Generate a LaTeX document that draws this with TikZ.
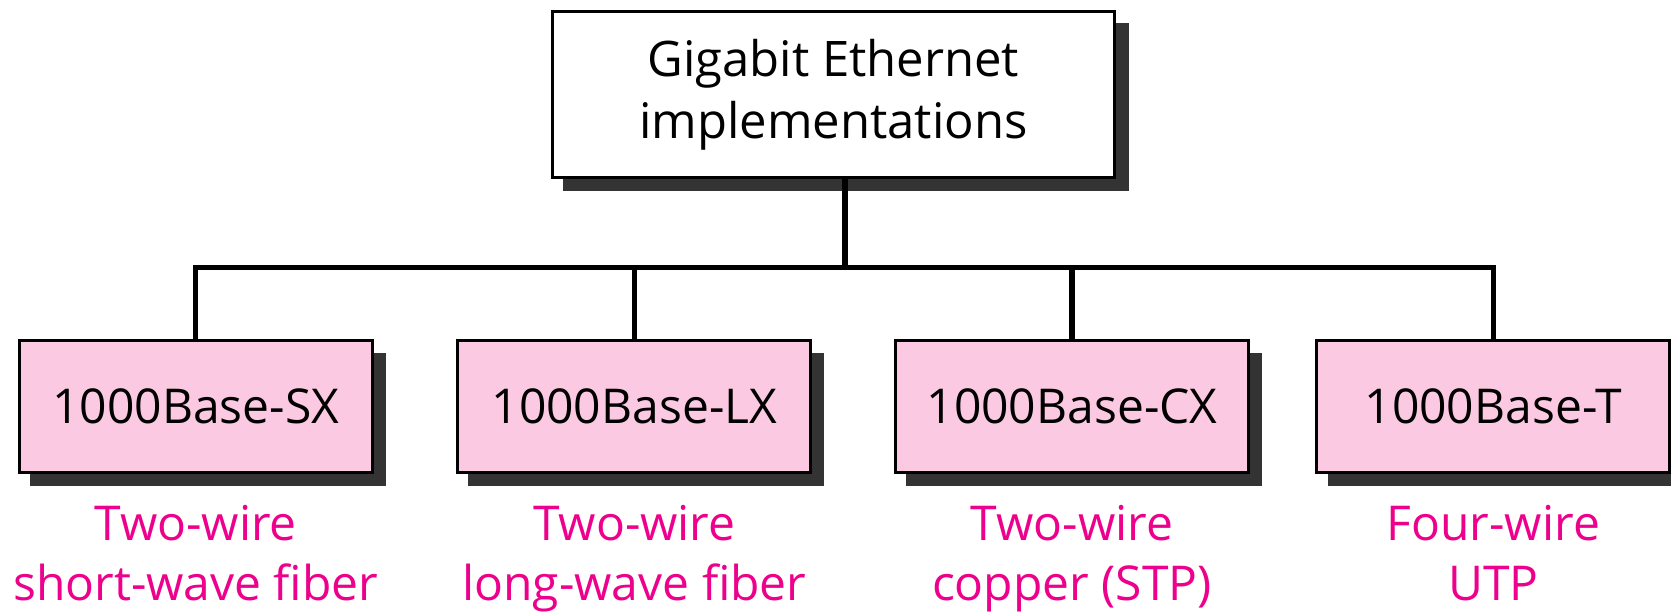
\documentclass[tikz,border=0pt]{standalone}
\usepackage{fontspec}
\setmainfont{Open Sans}
\usetikzlibrary{shadows}
\definecolor{boxpink}{HTML}{FCC9E3}
\definecolor{labmag}{HTML}{EC008C}
\definecolor{shad}{HTML}{333333}
\begin{document}
\begin{tikzpicture}[x=0.5pt,y=-0.5pt,
  topbox/.style={draw=black, line width=1.65pt, fill=white, minimum width=281pt, minimum height=83pt, inner sep=0pt, align=center,
    font=\fontsize{24.5}{31}\selectfont,
    drop shadow={shadow xshift=6pt, shadow yshift=-6.3pt, shadow scale=1.007, fill=shad, opacity=1}},
  implbox/.style={draw=black, line width=1.65pt, fill=boxpink, minimum width=176.5pt, minimum height=66pt, inner sep=0pt,
    font=\fontsize{24}{30}\selectfont,
    drop shadow={shadow xshift=6pt, shadow yshift=-6.2pt, shadow scale=1.008, fill=shad, opacity=1}},
  desc/.style={text=labmag, align=center, inner sep=0pt, anchor=base, font=\fontsize{24}{30}\selectfont},
  conn/.style={line width=2.65pt}
]
\useasboundingbox (0,0) rectangle (1671,612);
\clip (0,0) rectangle (1671,612);
\node[topbox] (top) at (833.5,94.3) {Gigabit Ethernet\\implementations};
\node[implbox] (b1) at (195.7,406.7) {1000Base-SX};
\node[implbox] (b2) at (634.3,406.7) {1000Base-LX};
\node[implbox] (b3) at (1072,406.7) {1000Base-CX};
\node[implbox] (b4) at (1493.3,406.7) {1000Base-T};
\coordinate (j) at (845,267.5);
\draw[conn] (top.south -| j) -- (j);
\draw[conn] (b1.north) -- (b1.north |- j) -- (b4.north |- j) -- (b4.north);
\draw[conn] (b2.north |- j) -- (b2.north);
\draw[conn] (b3.north |- j) -- (b3.north);
\node[desc] (d1) at (195.7,600) {Two-wire\\short-wave fiber};
\node[desc] (d2) at (634.3,600) {Two-wire\\long-wave fiber};
\node[desc] (d3) at (1072,600) {Two-wire\\copper (STP)};
\node[desc] (d4) at (1493.3,600) {Four-wire\\UTP};
\end{tikzpicture}
\end{document}
